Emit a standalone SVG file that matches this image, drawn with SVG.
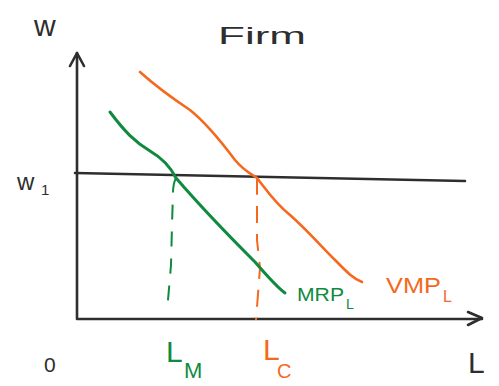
<svg xmlns="http://www.w3.org/2000/svg" width="499" height="386" viewBox="0 0 499 386">
<style>
.ax{fill:none;stroke:#2e2e2e;stroke-width:2.6;stroke-linecap:round;stroke-linejoin:round}
.g{fill:none;stroke:#0f8a3e;stroke-width:3;stroke-linecap:round;stroke-linejoin:round}
.o{fill:none;stroke:#f5691e;stroke-width:2.6;stroke-linecap:round;stroke-linejoin:round}
.dg{fill:none;stroke:#0f8a3e;stroke-width:2;stroke-dasharray:15 12}
.do{fill:none;stroke:#f5691e;stroke-width:2;stroke-dasharray:17 11}
.t{font-family:"Liberation Sans",Arial,sans-serif}
.k{fill:#2e2e2e}.tg{fill:#0f8a3e}.to{fill:#f5691e}
</style>
<rect width="499" height="386" fill="#fff"/>
<g id="axes">
<path class="ax" d="M77,53 L77,319 L482,319"/>
<path class="ax" d="M70,66 L77,53 L84,66"/>
<path class="ax" d="M468,312 L482,318 L468,325"/>
<path class="ax" d="M75,173 L465,181"/>
</g>
<g id="connectors">
<path class="dg" d="M176,178 Q173,184 173,193 L172,225 L171,265 L167,312"/>
<path class="do" d="M257,178 Q257,184 257,197 L257,240 L260,268 L256,320"/>
</g>
<g id="mrp">
<path class="g" d="M110,112 C125,132 135,142 150,151 C162,158 170,166 176,178 C195,200 225,232 255,262 C268,277 278,288 285,293"/>
</g>
<g id="vmp">
<path class="o" d="M140,72 C160,90 175,100 190,110 C205,122 220,140 235,160 C245,172 252,174 257,178 C268,192 275,203 290,215 C305,228 320,245 335,260 C345,270 352,278 362,282"/>
</g>
<g id="labels">
<text class="t k" x="34" y="36" font-size="30">w</text>
<text class="t k" x="218" y="44" font-size="24" textLength="88" lengthAdjust="spacingAndGlyphs">Firm</text>
<text class="t k" x="17" y="190" font-size="24">w</text>
<text class="t k" x="41" y="195" font-size="15">1</text>
<text class="t k" x="44" y="372" font-size="21">0</text>
<text class="t k" x="468" y="373" font-size="30">L</text>
<text class="t tg" x="166" y="362" font-size="30">L</text>
<text class="t tg" x="184" y="378" font-size="22">M</text>
<text class="t to" x="263" y="360" font-size="30">L</text>
<text class="t to" x="277" y="378" font-size="20">C</text>
<text class="t tg" x="297" y="301" font-size="19" textLength="47" lengthAdjust="spacingAndGlyphs">MRP</text>
<text class="t tg" x="346" y="309" font-size="14">L</text>
<text class="t to" x="386" y="293" font-size="22" textLength="55" lengthAdjust="spacingAndGlyphs">VMP</text>
<text class="t to" x="443" y="302" font-size="16">L</text>
</g>
</svg>
